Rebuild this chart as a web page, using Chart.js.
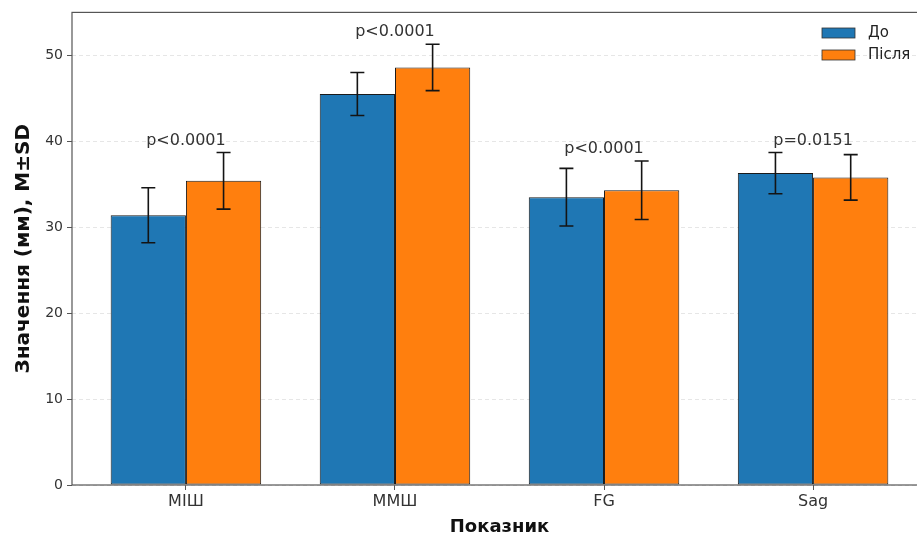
<!DOCTYPE html>
<html>
<head>
<meta charset="utf-8">
<script src="https://cdn.jsdelivr.net/npm/chart.js@4.4.1/dist/chart.umd.min.js"></script>
<style>
  html, body { margin: 0; padding: 0; background: #fff; overflow: hidden; }
  #wrap { width: 935px; height: 541px; }
</style>
</head>
<body>
<div id="wrap"><canvas id="c" width="935" height="541"></canvas></div>
<script>
// Measurements (mm), mean ± SD, before and after
const categories = ['МІШ', 'ММШ', 'FG', 'Sag'];
const seriesNames = ['До', 'Після'];
const meanBefore = [31.4, 45.5, 33.5, 36.3];
const sdBefore   = [3.2, 2.5, 3.35, 2.4];
const meanAfter  = [35.4, 48.6, 34.3, 35.8];
const sdAfter    = [3.3, 2.7, 3.4, 2.65];
const pLabels    = ['p<0.0001', 'p<0.0001', 'p<0.0001', 'p=0.0151'];
const yTicks     = [0, 10, 20, 30, 40, 50];

const FONT = "'DejaVu Sans', sans-serif";
const BLUE = '#1f77b4';
const ORANGE = '#ff7f0e';
const FRAME = '#555';

const toPoints = arr => arr.map((v, i) => ({ x: i, y: v }));

// Whiskers for mean ± SD on every bar
const errorBars = {
  id: 'errorBars',
  afterDatasetsDraw(chart) {
    const { ctx, scales: { y } } = chart;
    const sds = [sdBefore, sdAfter];
    const means = [meanBefore, meanAfter];
    ctx.save();
    ctx.strokeStyle = '#141414';
    ctx.lineWidth = 1.6;
    chart.data.datasets.forEach((ds, di) => {
      const meta = chart.getDatasetMeta(di);
      meta.data.forEach((bar, j) => {
        const top = y.getPixelForValue(means[di][j] + sds[di][j]);
        const bot = y.getPixelForValue(means[di][j] - sds[di][j]);
        const x = bar.x;
        const cap = 7;
        ctx.beginPath();
        ctx.moveTo(x, top); ctx.lineTo(x, bot);
        ctx.moveTo(x - cap, top); ctx.lineTo(x + cap, top);
        ctx.moveTo(x - cap, bot); ctx.lineTo(x + cap, bot);
        ctx.stroke();
      });
    });
    ctx.restore();
  }
};

// p-value text above each pair, frame and legend
const decorations = {
  id: 'decorations',
  afterDraw(chart) {
    const { ctx, chartArea: a, scales: { x, y } } = chart;
    ctx.save();
    // p-values
    ctx.font = '16px ' + FONT;
    ctx.fillStyle = '#333';
    ctx.textAlign = 'center';
    ctx.textBaseline = 'bottom';
    categories.forEach((c, i) => {
      const hi = Math.max(meanBefore[i] + sdBefore[i], meanAfter[i] + sdAfter[i]);
      ctx.fillText(pLabels[i], x.getPixelForValue(i), y.getPixelForValue(hi) - 4);
    });
    // frame
    ctx.strokeStyle = FRAME;
    ctx.lineWidth = 1.2;
    ctx.strokeRect(a.left, a.top, a.right - a.left, a.bottom - a.top);
    // legend
    const colors = [BLUE, ORANGE];
    const lx = a.right - 105;
    ctx.font = '15px ' + FONT;
    ctx.textAlign = 'left';
    ctx.textBaseline = 'middle';
    seriesNames.forEach((name, i) => {
      const cy = 33 + i * 22;
      ctx.fillStyle = colors[i];
      ctx.fillRect(lx, cy - 5, 33, 10);
      ctx.strokeStyle = '#333';
      ctx.lineWidth = 0.8;
      ctx.strokeRect(lx, cy - 5, 33, 10);
      ctx.fillStyle = '#222';
      ctx.fillText(name, lx + 46, cy);
    });
    ctx.restore();
  }
};

new Chart(document.getElementById('c'), {
  type: 'bar',
  data: {
    datasets: [
      { label: seriesNames[0], data: toPoints(meanBefore), backgroundColor: BLUE,
        borderColor: '#1a1a1a', borderWidth: 1, borderSkipped: false },
      { label: seriesNames[1], data: toPoints(meanAfter), backgroundColor: ORANGE,
        borderColor: '#1a1a1a', borderWidth: 1, borderSkipped: false }
    ]
  },
  options: {
    responsive: false,
    animation: false,
    devicePixelRatio: 1,
    categoryPercentage: 0.72,
    barPercentage: 1.0,
    layout: { padding: { left: 0, top: 10, right: 8, bottom: 0 } },
    plugins: { legend: { display: false }, tooltip: { enabled: false } },
    scales: {
      x: {
        type: 'linear',
        min: -0.545,
        max: 3.545,
        offset: false,
        afterBuildTicks: s => { s.ticks = categories.map((c, i) => ({ value: i })); },
        afterFit: s => { s.height = 56; },
        ticks: {
          callback: v => categories[v],
          font: { family: FONT, size: 16 },
          color: '#333',
          padding: 2,
          maxRotation: 0,
          autoSkip: false
        },
        grid: { offset: false, drawOnChartArea: false, drawTicks: true, tickLength: 5, tickColor: FRAME, lineWidth: 1 },
        border: { display: false },
        title: {
          display: true, text: 'Показник', color: '#111',
          font: { family: FONT, size: 18, weight: 'bold' },
          padding: { top: 0, bottom: 3 }
        }
      },
      y: {
        min: 0,
        max: 55,
        afterBuildTicks: s => { s.ticks = yTicks.map(v => ({ value: v })); },
        afterFit: s => { s.width = 72; },
        ticks: {
          font: { family: FONT, size: 14 },
          color: '#333',
          padding: 4
        },
        grid: {
          color: 'rgba(176,176,176,0.4)', lineWidth: 0.8,
          tickLength: 5, tickColor: FRAME, tickWidth: 1
        },
        border: { display: false, dash: [4, 3] },
        title: {
          display: true, text: 'Значення (мм), M±SD', color: '#111',
          font: { family: FONT, size: 20, weight: 'bold' },
          padding: { top: 12, bottom: 4 }
        }
      }
    }
  },
  plugins: [errorBars, decorations]
});
</script>
</body>
</html>
